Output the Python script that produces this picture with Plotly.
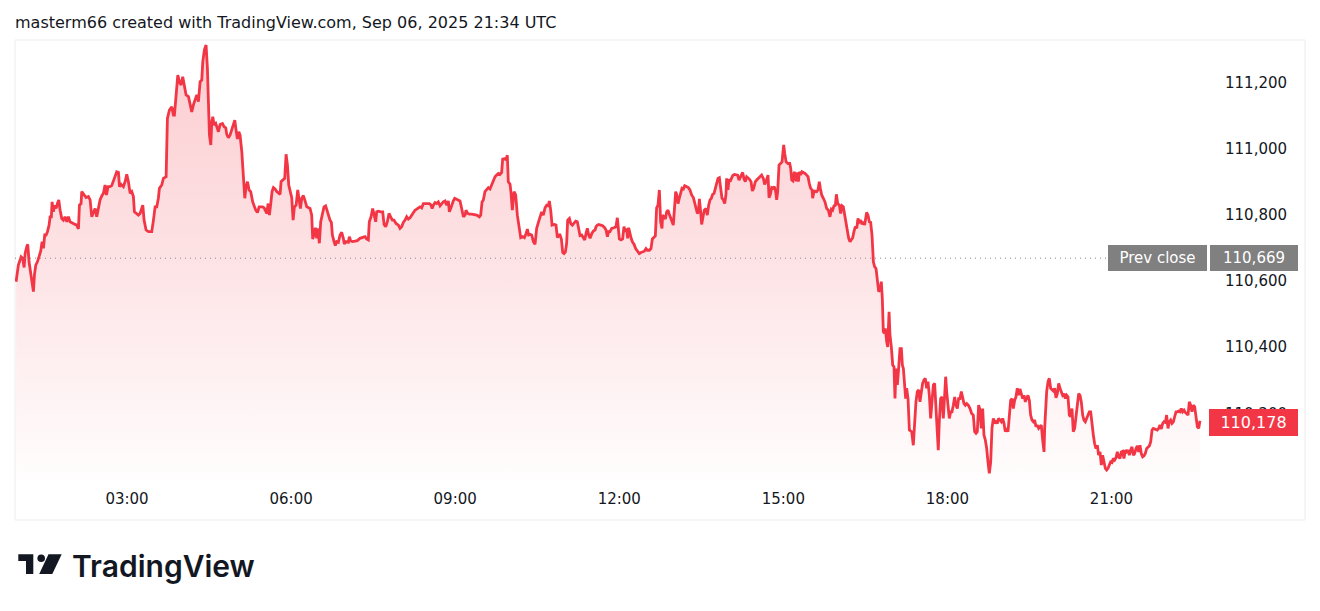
import pandas as pd
import plotly.graph_objects as go

# ---------------- data ----------------
session_date = "2025-09-06"
# minutes after 00:00 (chart time zone)
t_min = [
58.3,60.8,63.8,65.6,67.1,68.2,70.0,71.1,72.5,74.4,76.2,77.3,78.4,79.9,81.7,83.9,85.3,86.8,88.3,89.7,
91.2,92.7,94.5,95.6,97.0,97.8,99.2,100.7,102.2,103.6,105.1,106.6,108.4,110.2,112.0,113.9,115.7,117.5,120.1,123.0,
124.8,126.7,127.8,129.6,130.3,132.9,135.1,137.6,139.5,141.3,143.1,145.0,146.8,148.6,150.4,152.3,154.1,155.9,157.4,159.2,
161.4,163.2,165.1,166.9,168.7,170.6,171.7,173.5,176.0,177.9,179.7,181.5,183.4,185.2,187.0,188.1,190.7,192.5,194.3,196.2,
197.3,198.7,200.9,203.5,207.1,209.0,210.8,212.6,214.4,215.5,218.1,219.9,222.9,224.3,226.5,229.1,230.9,232.0,233.5,235.7,
237.5,239.3,241.1,243.0,244.8,247.4,249.2,251.0,252.8,254.7,256.5,258.3,260.2,262.0,263.1,264.9,266.7,268.2,269.3,270.4,
271.9,273.0,274.1,275.5,277.3,278.4,280.3,282.1,284.7,286.5,288.3,289.4,291.2,293.1,294.9,296.7,298.2,299.6,301.1,302.6,
304.0,305.9,307.7,309.2,310.6,312.1,313.9,315.7,317.9,319.4,321.2,323.1,324.9,326.7,328.5,330.4,332.2,333.3,334.8,336.2,
337.7,339.1,340.6,342.4,344.3,346.5,347.9,349.0,350.8,353.0,354.5,356.0,357.4,358.9,360.7,362.2,363.6,365.5,367.3,368.8,
370.2,371.7,373.5,375.3,377.2,
380.8,382.6,383.7,385.1,386.6,388.1,389.5,391.0,392.5,394.3,396.1,397.9,399.8,401.2,402.7,404.2,405.3,407.1,408.5,410.0,
411.8,413.7,415.5,417.3,418.4,420.2,422.8,423.9,425.4,427.6,430.1,432.7,435.6,438.5,441.1,442.9,444.7,445.8,447.7,449.5,
451.0,452.8,453.9,455.7,458.3,460.5,462.0,463.8,465.6,467.4,469.2,471.1,472.9,475.1,477.7,479.5,481.3,483.1,485.0,486.8,
488.6,490.5,492.3,494.1,495.9,497.8,499.6,501.4,503.3,505.1,506.9,508.7,511.7,513.1,514.8,516.1,517.9,519.7,521.5,523.4,
525.2,527.0,528.9,530.7,532.5,533.6,535.1,536.5,538.0,539.5,541.7,543.9,545.3,547.1,549.0,550.8,551.9,553.7,555.6,558.1,
560.7,563.6,566.5,568.0,569.5,570.9,572.7,574.6,576.4,578.2,580.1,581.9,583.7,585.5,587.4,589.2,591.0,592.1,594.7,595.8,
597.2,598.3,600.2,601.3,602.7,604.6,606.4,608.2,610.4,611.9,614.1,615.9,617.7,619.2,620.6,622.1,623.9,625.8,627.6,629.4,
631.3,633.1,634.9,636.7,638.6,640.4,642.2,643.3,644.8,646.3,648.8,650.6,652.1,653.6,655.0,656.5,658.0,659.4,660.9,662.3,
663.4,665.3,666.7,668.6,670.4,672.2,674.0,675.5,677.0,678.8,680.6,682.1,683.6,685.0,686.5,688.0,689.8,691.6,693.4,694.5,
696.0,697.5,699.6,701.8,704.0,705.5,707.0,708.4,
709.9,711.7,714.2,716.4,717.9,719.0,720.1,721.9,723.7,725.2,726.7,728.1,729.2,730.3,731.8,733.3,734.7,736.2,738.0,739.8,
742.0,743.8,745.7,747.5,749.3,750.8,753.0,754.8,756.3,758.1,759.6,761.0,762.5,764.0,765.4,766.9,767.6,769.1,770.6,772.0,
773.5,774.6,776.0,777.9,779.3,780.8,781.9,783.0,784.5,785.9,787.4,788.8,790.3,791.8,794.0,795.8,797.6,799.4,801.3,802.7,
804.2,805.7,806.8,807.9,809.0,810.4,811.9,813.3,815.2,816.6,818.1,819.6,821.0,822.5,824.0,825.4,826.9,828.3,829.8,831.3,
832.7,834.2,835.7,837.1,837.8,839.3,840.4,841.5,843.0,844.4,846.3,848.1,849.9,851.4,852.5,854.0,855.4,856.9,858.3,859.8,
861.3,862.7,864.6,866.0,867.5,869.3,870.8,872.6,874.4,876.2,878.1,879.5,881.0,882.1,883.2,884.3,885.8,887.2,888.7,890.1,
891.6,892.7,893.8,895.3,897.1,898.6,899.6,900.4,901.5,903.0,905.1,907.0,908.1,909.2,910.6,912.1,913.2,914.3,915.4,916.5,
917.6,919.0,920.5,922.0,923.8,925.6,927.1,928.5,930.0,931.5,932.2,933.7,935.1,936.6,938.0,939.5,940.6,942.1,943.9,945.7,
947.6,949.4,951.2,952.7,954.1,955.6,957.1,958.2,959.6,961.5,962.9,964.4,965.8,967.3,968.8,970.2,971.7,973.2,974.6,976.1,
977.5,979.0,980.5,981.9,983.4,984.9,986.3,987.8,989.2,990.7,991.4,992.9,994.4,995.8,997.3,998.8,1000.2,1001.7,1003.1,1004.6,
1006.1,1007.5,1008.6,1009.7,1010.8,1011.9,1013.4,1014.5,1016.0,1017.0,1018.5,1020.0,1021.4,1022.5,1023.6,1025.1,1026.5,1028.0,1029.5,1030.6,
1031.7,1033.1,1034.2,1035.3,1036.8,1038.3,
1040.8,1042.6,1044.1,1045.5,1047.0,1048.5,1049.9,1051.4,1052.8,1054.3,1055.8,1057.2,1058.7,1060.2,1061.6,1063.1,1064.6,1066.0,1067.5,1069.0,
1070.0,1071.1,1072.6,1074.1,1075.5,1077.0,1078.1,1079.2,1080.6,1082.1,1083.6,1085.0,1086.5,1088.0,1089.4,1090.9,1092.3,1093.8,1095.3,1096.7,
1098.2,1099.7,1101.1,1102.9,1104.8,1106.6,1108.4,1109.9,1111.4,1112.8,1114.3,1115.8,1117.2,1118.7,1120.1,1121.6,1123.1,1124.5,1126.0,1127.5,
1128.9,1130.4,1131.8,1133.3,1134.8,1136.2,1137.7,1139.2,1140.6,1142.1,1143.5,1145.0,1146.5,1147.9,1149.4,1150.9,1152.3,1153.8,1155.2,1156.7,
1158.2,1159.6,1161.1,1162.6,1164.0,1165.5,1166.9,1168.4,1169.9,1171.3,1172.8,1174.3,1175.7,1177.2,1178.6,1180.1,1181.6,1183.0,1184.5,1186.0,
1186.7,1187.8,1188.9,1190.4,1191.8,1193.3,1194.7,1196.2,1197.7,1199.1,1200.6,1202.1,1203.5,1205.0,1206.4,1207.9,1209.4,1210.8,1212.3,1213.8,
1215.2,1216.7,1218.1,1219.6,1221.1,1222.5,1224.0,1225.5,1226.9,1228.4,1229.8,1231.3,1232.8,1234.2,1235.7,1237.2,1238.6,1240.1,1241.5,1243.0,
1244.5,1245.9,1247.4,1248.9,1250.3,1251.8,1253.3,1254.7,1256.2,1257.6,1259.1,1260.6,1262.0,1263.5,1265.0,1266.4,1267.9,1269.3,1270.8,1272.3,
1273.7,1275.2,1276.7,1278.1,1279.6,1281.0,1282.5,1284.0,1285.4,1286.9,1288.4,1289.8,1291.3,1292.7,1294.2,1295.7,1297.1,1298.6,1300.1,1301.5,
1303.0,1304.5,1305.9,1307.4,1308.8,1310.3,1311.8,1313.2,1314.7,1316.2,1317.6,1319.1,1320.5,1322.0,1323.5,1324.9,1326.4,1327.9,1329.3,1330.8,
1332.2,1333.7,1335.2,1336.6,1338.1,1339.6,1341.0,1342.5,1344.0,1345.4,1346.9,1348.3,1349.8,1351.3,1352.7,1354.2,1355.7,1357.1,
]
price = [
110598,110648,110673,110668,110641,110683,110704,110711,110658,110626,110598,110568,110618,110648,110658,110678,110690,110719,110699,110739,
110739,110749,110769,110794,110794,110839,110809,110829,110819,110834,110845,110814,110789,110784,110794,110779,110794,110779,110774,110771,
110769,110757,110829,110834,110870,110860,110852,110855,110845,110794,110804,110819,110794,110821,110845,110857,110865,110890,110860,110885,
110885,110888,110902,110915,110930,110928,110885,110892,110885,110900,110922,110900,110865,110870,110855,110809,110804,110799,110804,110819,
110829,110784,110754,110749,110749,110784,110824,110824,110850,110880,110890,110910,110915,111091,111116,111126,111101,111101,111162,111222,
111202,111192,111217,111182,111162,111157,111137,111111,111132,111147,111162,111142,111202,111207,111262,111298,111313,111242,111142,111041,
111011,111081,111096,111071,111076,111066,111051,111073,111076,111066,111063,111043,111033,111041,111056,111076,111086,111056,111029,111051,
111041,110991,110920,110850,110885,110900,110875,110870,110839,110824,110814,110807,110824,110824,110824,110821,110809,110804,110834,110799,
110834,110870,110882,110878,110870,110865,110862,110900,110905,110910,110983,110950,110890,110875,110852,110784,110824,110829,110875,110845,
110819,110850,110858,110842,110824,
110819,110799,110727,110739,110761,110729,110759,110714,110779,110804,110824,110827,110809,110799,110784,110777,110739,110719,110707,110719,
110717,110739,110747,110729,110712,110719,110717,110734,110721,110719,110721,110722,110729,110731,110734,110727,110724,110779,110794,110819,
110799,110779,110809,110811,110809,110809,110771,110764,110779,110804,110794,110784,110784,110774,110769,110759,110764,110777,110784,110794,
110787,110791,110799,110809,110814,110817,110821,110824,110821,110834,110834,110834,110834,110831,110819,110829,110837,110834,110839,110827,
110834,110839,110842,110829,110842,110809,110819,110834,110842,110850,110847,110845,110842,110819,110794,110799,110814,110804,110802,110802,
110801,110799,110794,110799,110839,110845,110870,110878,110882,110878,110892,110908,110915,110920,110925,110922,110928,110968,110970,110965,
110980,110900,110892,110865,110814,110870,110860,110799,110754,110731,110734,110731,110743,110757,110739,110741,110739,110719,110711,110759,
110777,110794,110809,110799,110821,110829,110827,110842,110814,110769,110771,110769,110731,110739,110739,110727,110686,110683,110688,110714,
110784,110789,110774,110769,110774,110781,110779,110761,110737,110739,110731,110724,110744,110759,110739,110729,110743,110751,110754,110764,
110769,110771,110769,110767,110761,110754,110734,110749,
110749,110759,110761,110764,110791,110759,110727,110724,110727,110764,110749,110759,110729,110761,110739,110727,110717,110711,110698,110690,
110683,110686,110688,110690,110698,110693,110693,110698,110727,110734,110736,110821,110829,110875,110779,110759,110799,110794,110787,110809,
110814,110804,110794,110779,110769,110827,110870,110862,110834,110850,110870,110880,110878,110888,110885,110882,110875,110860,110852,110834,
110819,110804,110809,110848,110819,110771,110794,110814,110819,110799,110829,110845,110850,110862,110865,110878,110900,110910,110912,110880,
110850,110845,110834,110862,110910,110875,110908,110900,110910,110918,110922,110922,110920,110905,110912,110920,110928,110908,110900,110915,
110912,110908,110900,110872,110880,110900,110905,110910,110912,110920,110910,110892,110900,110915,110920,110852,110862,110882,110880,110885,
110870,110845,110870,110950,110955,110960,110989,111011,110986,110960,110955,110955,110940,110905,110902,110930,110910,110902,110928,110900,
110930,110920,110930,110928,110925,110920,110915,110895,110880,110875,110850,110872,110870,110870,110875,110900,110880,110860,110850,110839,
110819,110814,110794,110817,110814,110827,110829,110862,110834,110829,110804,110827,110824,110799,110769,110749,110729,110719,110724,110731,
110749,110764,110759,110789,110779,110784,110771,110779,110769,110791,110807,110799,110779,110777,110739,110658,110643,110638,110608,110568,
110573,110598,110547,110447,110442,110457,110417,110401,110507,110437,110401,110346,110341,110245,110336,110286,110336,110396,110396,110346,
110336,110276,110245,110276,110245,110150,
110145,110104,110175,110235,110266,110271,110235,110266,110291,110301,110306,110276,110296,110255,110185,110235,110286,110291,110205,110135,
110089,110175,110245,110250,110185,110255,110311,110266,110225,110185,110205,110205,110225,110250,110225,110215,110245,110245,110266,110245,
110230,110225,110230,110225,110215,110200,110195,110145,110140,110145,110225,110210,110155,110215,110135,110120,110094,110054,110019,110054,
110155,110185,110170,110175,110170,110185,110180,110175,110185,110170,110145,110155,110145,110195,110240,110245,110215,110240,110250,110276,
110255,110274,110255,110245,110255,110235,110245,110255,110240,110195,110180,110175,110180,110160,110165,110155,110160,110165,110120,110084,
110155,110205,110266,110296,110306,110276,110271,110268,110276,110247,110260,110291,110276,110266,110255,110260,110245,110255,110250,110195,
110190,110215,110145,110155,110195,110235,110260,110255,110235,110195,110180,110175,110185,110190,110205,110205,110165,110135,110109,110094,
110104,110074,110084,110044,110074,110054,110034,110029,110034,110044,110054,110052,110064,110059,110066,110084,110069,110064,110084,110086,
110064,110089,110084,110089,110074,110089,110099,110074,110079,110094,110102,110084,110104,110079,110069,110072,110079,110094,110099,110102,
110114,110150,110155,110153,110153,110150,110155,110165,110153,110170,110175,110173,110195,110155,110175,110180,110170,110175,110190,110205,
110205,110207,110205,110215,110205,110210,110203,110200,110195,110235,110225,110205,110225,110220,110195,110160,110155,110178,
]
prev_close = 110669
last_price = 110178
price_ticks = [110200, 110400, 110600, 110800, 111000, 111200]
time_ticks = ["03:00", "06:00", "09:00", "12:00", "15:00", "18:00", "21:00"]
title_text = "masterm66 created with TradingView.com, Sep 06, 2025 21:34 UTC"

# ---------------- layout constants ----------------
W_FIG, H_FIG = 1320, 611
L, R_EDGE, T, B_EDGE = 15, 1207, 41, 480
PW, PH = R_EDGE - L, B_EDGE - T
RED = "#F23645"
TXT = "#131722"
FONT = "DejaVu Sans"

def pxx(x):
    return (x - L) / PW

def pxy(y):
    return (B_EDGE - y) / PH

base = pd.Timestamp(session_date)
times = base + pd.to_timedelta(t_min, unit="min")
x_range = [base + pd.Timedelta(minutes=57.1), base + pd.Timedelta(minutes=1364.8)]
y_range = [109999, 111325]

fig = go.Figure()
fig.add_trace(go.Scatter(
    x=times, y=price, mode="lines",
    line=dict(color=RED, width=2.8),
    fill="tozeroy",
    fillgradient=dict(
        type="vertical", start=y_range[0], stop=max(price),
        colorscale=[[0, "rgba(242,54,69,0.01)"], [0.5, "rgba(242,54,69,0.14)"],
                    [1, "rgba(242,54,69,0.25)"]],
    ),
    hoverinfo="skip", showlegend=False,
))

shapes = [
    # outer frame
    dict(type="rect", xref="paper", yref="paper", x0=pxx(15), x1=pxx(1305),
         y0=pxy(520), y1=pxy(40), line=dict(color="#ececec", width=1), layer="below"),
    # prev close dotted line
    dict(type="line", xref="paper", yref="y", x0=0, x1=pxx(1108), y0=prev_close, y1=prev_close,
         line=dict(color="#8a8a8a", width=1, dash="1px,4px")),
    # TradingView logo: block
    dict(type="path", xref="paper", yref="paper", fillcolor="#131722", line=dict(width=0),
         path=(f"M {pxx(18.3)},{pxy(554.3)} L {pxx(33.3)},{pxy(554.3)} L {pxx(33.3)},{pxy(574)} "
               f"L {pxx(26)},{pxy(574)} L {pxx(26)},{pxy(561)} L {pxx(18.3)},{pxy(561)} Z")),
    # logo: dot
    dict(type="circle", xref="paper", yref="paper", fillcolor="#131722", line=dict(width=0),
         x0=pxx(37.4), x1=pxx(45.0), y0=pxy(562.1), y1=pxy(554.5)),
    # logo: slash
    dict(type="path", xref="paper", yref="paper", fillcolor="#131722", line=dict(width=0),
         path=(f"M {pxx(48.5)},{pxy(554.3)} L {pxx(61.7)},{pxy(554.3)} L {pxx(52.3)},{pxy(574)} "
               f"L {pxx(39.2)},{pxy(574)} Z")),
]

annotations = [
    dict(text="Prev close", xref="paper", yref="y", x=pxx(1108), y=prev_close,
         xanchor="left", yanchor="middle", showarrow=False, width=99, height=26,
         bgcolor="#808080", borderpad=0, borderwidth=0, align="center",
         font=dict(family=FONT, size=15, color="white")),
    dict(text=f"{prev_close:,}", xref="paper", yref="y", x=pxx(1210), y=prev_close,
         xanchor="left", yanchor="middle", showarrow=False, width=88, height=26,
         bgcolor="#808080", borderpad=0, borderwidth=0, align="center",
         font=dict(family=FONT, size=15, color="white")),
    dict(text=f"{last_price:,}", xref="paper", yref="y", x=pxx(1209), y=last_price,
         xanchor="left", yanchor="top", yshift=12, showarrow=False, width=89, height=27,
         bgcolor=RED, borderpad=0, borderwidth=0, align="center",
         font=dict(family=FONT, size=16, color="white")),
    dict(text="TradingView", xref="paper", yref="paper", x=pxx(70), y=pxy(566),
         xanchor="left", yanchor="middle", showarrow=False,
         font=dict(family="Inter", size=30, color="#131722", weight=600)),
]

fig.update_layout(
    width=W_FIG, height=H_FIG, autosize=False,
    margin=dict(l=L, r=W_FIG - R_EDGE, t=T, b=H_FIG - B_EDGE, pad=0),
    paper_bgcolor="white", plot_bgcolor="white",
    title=dict(text=title_text, x=15 / W_FIG, xref="container", xanchor="left",
               y=1 - 22 / H_FIG, yref="container", yanchor="middle",
               font=dict(family=FONT, size=16, color=TXT)),
    xaxis=dict(type="date", range=x_range, showgrid=False, zeroline=False, showline=False,
               ticks="", tickvals=[base + pd.Timedelta(hours=int(s[:2])) for s in time_ticks],
               ticktext=time_ticks, tickfont=dict(family=FONT, size=15, color=TXT),
               ticklabelstandoff=8, automargin=False, fixedrange=True),
    yaxis=dict(side="right", range=y_range, showgrid=False, zeroline=False, showline=False,
               ticks="", tickvals=price_ticks, ticktext=[f"{v:,}" for v in price_ticks],
               tickfont=dict(family=FONT, size=15, color=TXT), ticklabelstandoff=17,
               automargin=False, fixedrange=True),
    shapes=shapes, annotations=annotations, showlegend=False,
)

fig.write_html("out.html", config={"displayModeBar": False, "staticPlot": True},
               post_script="document.body.style.margin='0';document.body.style.padding='0';")
